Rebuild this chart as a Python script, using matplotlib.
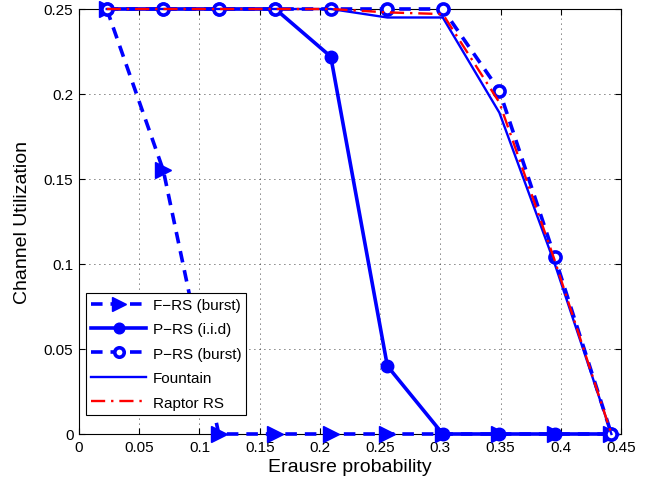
import numpy as np
import matplotlib.pyplot as plt

plt.rcParams['font.family'] = ['Liberation Sans', 'DejaVu Sans']

# erasure probabilities used in the simulation
p = [0.023, 0.07, 0.116, 0.163, 0.209, 0.256, 0.302, 0.349, 0.395, 0.442]

frs_burst = [0.25, 0.155, 0.0, 0.0, 0.0, 0.0, 0.0, 0.0, 0.0, 0.0]
prs_iid = [0.25, 0.25, 0.25, 0.25, 0.222, 0.04, 0.0, 0.0, 0.0, 0.0]
prs_burst = [0.25, 0.25, 0.25, 0.25, 0.25, 0.25, 0.25, 0.202, 0.104, 0.0]
fountain = [0.25, 0.25, 0.25, 0.25, 0.25, 0.245, 0.245, 0.189, 0.1, 0.0]
raptor = [0.25, 0.25, 0.25, 0.25, 0.25, 0.248, 0.247, 0.195, 0.102, 0.0]

xticks = [0, 0.05, 0.1, 0.15, 0.2, 0.25, 0.3, 0.35, 0.4, 0.45]
yticks = [0, 0.05, 0.1, 0.15, 0.2, 0.25]

fig = plt.figure(figsize=(6.52, 4.85), dpi=100)
ax = fig.add_axes([0.1212, 0.1031, 0.8313, 0.8763])

blue = (0, 0, 1)
ax.plot(p, frs_burst, color=blue, lw=2.6, ls=(0, (3.2, 2.2)), marker='>', ms=12,
        mfc=blue, mec=blue, label='F\u2212RS (burst)', clip_on=False, zorder=3)
ax.plot(p, prs_iid, '-', color=blue, lw=2.6, marker='o', ms=9,
        mfc=blue, mec=blue, label='P\u2212RS (i.i.d)', clip_on=False, zorder=3)
ax.plot(p, prs_burst, color=blue, lw=2.6, ls=(0, (3.2, 2.2)), marker='o', ms=8,
        mfc='white', mec=blue, mew=2.6, label='P\u2212RS (burst)', clip_on=False, zorder=3)
ax.plot(p, fountain, '-', color=blue, lw=1.7, label='Fountain', clip_on=False, zorder=3)
ax.plot(p, raptor, color='red', lw=1.7, ls=(0, (6, 2.5, 1, 2.5)),
        label='Raptor RS', clip_on=False, zorder=4)

ax.set_xlim(0, 0.45)
ax.set_ylim(0, 0.25)
ax.set_xticks(xticks)
ax.set_yticks(yticks)
ax.set_xticklabels(['0'] + ['%g' % t for t in xticks[1:]])
ax.set_yticklabels(['0'] + ['%g' % t for t in yticks[1:]])
ax.tick_params(direction='in', labelsize=11, length=4, top=True, right=True, pad=4)
ax.grid(True, linestyle=(0, (1, 5)), color='black', lw=0.6)
for s in ax.spines.values():
    s.set_linewidth(0.8)

ax.set_xlabel('Erausre probability', fontsize=14, labelpad=3)
ax.set_ylabel('Channel Utilization', fontsize=14, labelpad=9)

leg = ax.legend(loc='lower left', bbox_to_anchor=(0.013, 0.045), fontsize=11,
                handlelength=3.6, fancybox=False, edgecolor='black',
                framealpha=1, borderpad=0.35, labelspacing=0.68, handletextpad=0.4,
                borderaxespad=0.0, markerscale=0.85)
leg.get_frame().set_linewidth(0.8)
leg.set_zorder(10)

fig.savefig('out.png', dpi=100)
